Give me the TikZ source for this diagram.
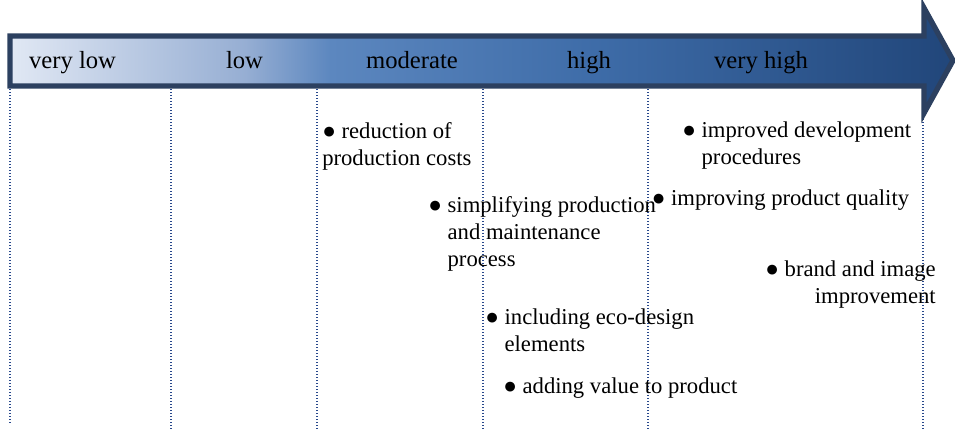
\documentclass[tikz,border=0pt]{standalone}
\usepackage{fontspec}
\setmainfont{Liberation Serif}

\definecolor{shadeA}{RGB}{225,232,244}
\definecolor{shadeB}{RGB}{150,174,211}
\definecolor{shadeC}{RGB}{92,135,191}
\definecolor{shadeD}{RGB}{62,108,168}
\definecolor{shadeE}{RGB}{33,70,122}
\definecolor{arrowedge}{RGB}{44,64,96}
\definecolor{gridblue}{RGB}{40,72,140}

\pgfdeclarehorizontalshading{arrowfill}{100bp}{color(0bp)=(shadeA); color(25bp)=(shadeA); color(37.5bp)=(shadeB); color(42bp)=(shadeC); color(56bp)=(shadeD); color(75bp)=(shadeE); color(100bp)=(shadeE)}

\tikzset{
	level/.style={font=\fontsize{18.5}{22}\selectfont, inner sep=0pt, anchor=base},
	item/.style={font=\fontsize{17}{20.2}\selectfont, inner sep=0pt, anchor=base west, align=left},
	divider/.style={draw=gridblue, line width=1pt, dash pattern=on 1.1pt off 1.15pt}
}
\newcommand{\dotitem}{●~}
\newcommand{\dotgap}{\hphantom{●~}}

\begin{document}
\begin{tikzpicture}[x=0.75pt,y=0.75pt,yscale=-1,xscale=1]
	\useasboundingbox (0,0) rectangle (955,432);
	% dotted dividers
	\foreach \xpos/\ypos in {10/424,171/430,317/430,483/430,648/430,923/430}
		\draw [divider] (\xpos,86) -- (\xpos,\ypos);
	% scale arrow
	\shadedraw [shading=arrowfill, draw=arrowedge, line width=4pt, line join=miter] (10,36) -- (924,36) -- (924,8) -- (953,60.5) -- (924,113) -- (924,86) -- (10,86) -- cycle ;
	\draw (72.5,68) node (vlow) [level] {very low};
	\draw (244.5,68) node (low) [level] {low};
	\draw (412,68) node (moderate) [level] {moderate};
	\draw (589,68) node (high) [level] {high};
	\draw (761,68) node (vhigh) [level] {very high};
	% effects (base = baseline of the last line)
	\draw (322,165) node (costs) [item] {\dotitem reduction of\\production costs};
	\draw (428,266.5) node (simplify) [item] {\dotitem simplifying production\\\dotgap and maintenance\\\dotgap process};
	\draw (682,164.5) node (develop) [item] {\dotitem improved development\\\dotgap procedures};
	\draw (651.5,205.5) node (quality) [item] {\dotitem improving product quality};
	\draw (936,303.5) node (brand) [item, anchor=base east, align=right] {\dotitem brand and image\\improvement};
	\draw (485,351) node (eco) [item] {\dotitem including eco-design\\\dotgap elements};
	\draw (503,393.5) node (value) [item] {\dotitem adding value to product};
\end{tikzpicture}
\end{document}
